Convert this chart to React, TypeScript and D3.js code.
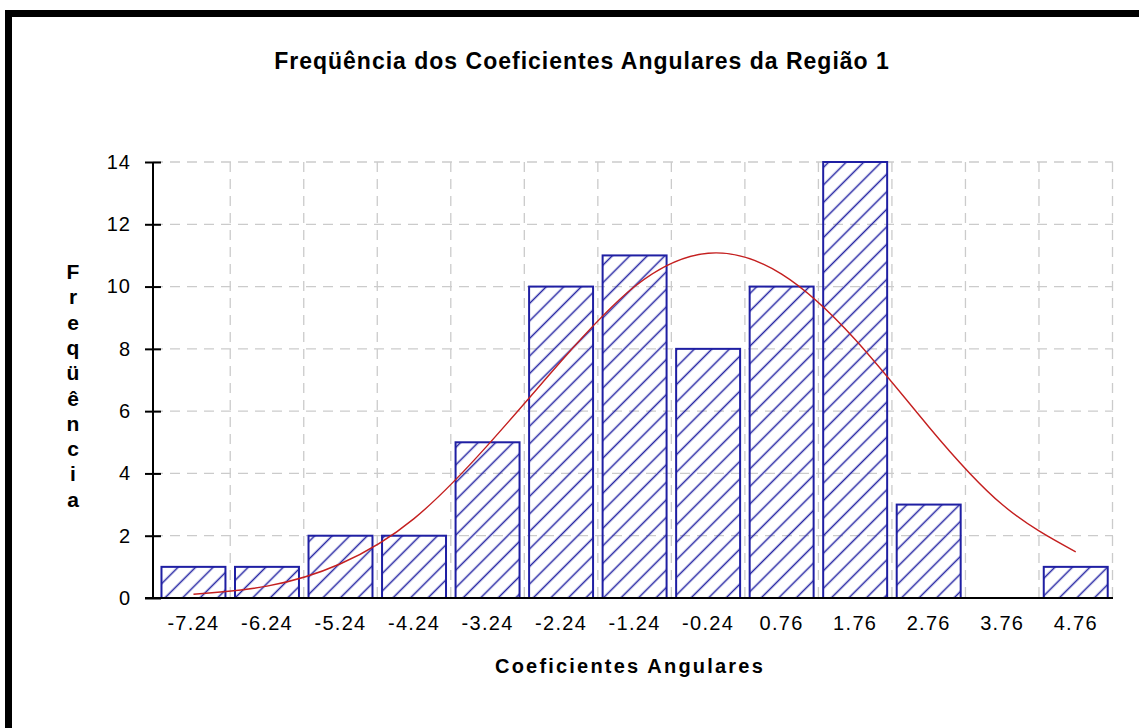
import React, { useEffect, useRef } from "react";
import * as d3 from "d3";

// bin labels (class centres) and bar heights
const categories = ["-7.24", "-6.24", "-5.24", "-4.24", "-3.24", "-2.24", "-1.24", "-0.24", "0.76", "1.76", "2.76", "3.76", "4.76"];
const frequencies = [1, 1, 2, 2, 5, 10, 11, 8, 10, 14, 3, 0, 1];
// fitted normal curve, estimated at each bin centre
const curveValues = [0.12, 0.38, 1.1, 2.55, 4.9, 7.6, 10.0, 11.07, 10.4, 8.3, 5.5, 3.0, 1.48];
const yTicks = [0, 2, 4, 6, 8, 10, 12, 14];
const yLabelLetters = ["F", "r", "e", "q", "ü", "ê", "n", "c", "i", "a"];

const title = "Freqüência dos Coeficientes Angulares da Região 1";
const xTitle = "Coeficientes Angulares";

const W = 1139;
const H = 728;

const App = () => {
  const svgRef = useRef(null);

  useEffect(() => {
    const svg = d3.select(svgRef.current);
    svg.selectAll("*").remove();

    const plot = { left: 153, right: 1113, top: 162, bottom: 598 };
    const font = "Arial, 'Liberation Sans', sans-serif";

    // hatch pattern for the bars
    const defs = svg.append("defs");
    defs
      .append("pattern")
      .attr("id", "hatch")
      .attr("patternUnits", "userSpaceOnUse")
      .attr("width", 12.4)
      .attr("height", 12.4)
      .attr("patternTransform", "rotate(45)")
      .append("line")
      .attr("x1", 6.2)
      .attr("y1", 0)
      .attr("x2", 6.2)
      .attr("y2", 12.4)
      .attr("stroke", "#2626a4")
      .attr("stroke-width", 1.5);

    svg.append("rect").attr("width", W).attr("height", H).attr("fill", "#fff");

    // window frame (top and left edges only)
    svg
      .append("path")
      .attr("d", `M8.5,${H} V13.5 H${W}`)
      .attr("fill", "none")
      .attr("stroke", "#000")
      .attr("stroke-width", 7);

    const x = d3
      .scaleBand()
      .domain(categories)
      .range([156.7, 1112.5])
      .paddingInner(0.13)
      .paddingOuter(0.065);

    const y = d3.scaleLinear().domain([0, 14]).range([plot.bottom, plot.top]);

    const grid = svg.append("g").attr("stroke", "#cbcbcb").attr("stroke-width", 1.3).attr("stroke-dasharray", "10 7");

    grid
      .selectAll(".hgrid")
      .data(yTicks.filter((t) => t > 0))
      .enter()
      .append("line")
      .attr("x1", plot.left)
      .attr("x2", plot.right)
      .attr("y1", (d) => y(d))
      .attr("y2", (d) => y(d));

    const gap = x.step() * x.paddingInner();
    grid
      .selectAll(".vgrid")
      .data(categories)
      .enter()
      .append("line")
      .attr("x1", (d) => x(d) + x.bandwidth() + gap / 2)
      .attr("x2", (d) => x(d) + x.bandwidth() + gap / 2)
      .attr("y1", plot.top)
      .attr("y2", plot.bottom);

    // bars
    svg
      .selectAll(".bar")
      .data(frequencies.map((v, i) => ({ c: categories[i], v })).filter((d) => d.v > 0))
      .enter()
      .append("rect")
      .attr("x", (d) => x(d.c))
      .attr("y", (d) => y(d.v))
      .attr("width", x.bandwidth())
      .attr("height", (d) => y(0) - y(d.v))
      .attr("fill", "url(#hatch)")
      .attr("stroke", "#1f1fa3")
      .attr("stroke-width", 2);

    // normal curve
    const line = d3
      .line()
      .x((d, i) => x(categories[i]) + x.bandwidth() / 2)
      .y((d) => y(d))
      .curve(d3.curveNatural);

    svg
      .append("path")
      .datum(curveValues)
      .attr("d", line)
      .attr("fill", "none")
      .attr("stroke", "#c41f1f")
      .attr("stroke-width", 1.4);

    // axes
    const yAxis = svg.append("g").attr("transform", `translate(${plot.left},0)`);
    yAxis
      .call(d3.axisLeft(y).tickValues(yTicks).tickSize(0).tickPadding(22).tickFormat(d3.format("d")))
      .call((g) => g.select(".domain").remove());
    yAxis
      .selectAll(".tick text")
      .attr("font-family", font)
      .attr("font-size", 20)
      .attr("letter-spacing", 1)
      .attr("fill", "#000");
    yAxis
      .selectAll(".tick")
      .append("line")
      .attr("x1", -8)
      .attr("x2", 8)
      .attr("stroke", "#000")
      .attr("stroke-width", 2);
    yAxis
      .append("line")
      .attr("y1", plot.top)
      .attr("y2", plot.bottom)
      .attr("stroke", "#000")
      .attr("stroke-width", 2);

    const xAxis = svg.append("g").attr("transform", `translate(0,${plot.bottom})`);
    xAxis
      .call(d3.axisBottom(x).tickSize(0).tickPadding(18))
      .call((g) => g.select(".domain").remove());
    xAxis
      .selectAll(".tick text")
      .attr("font-family", font)
      .attr("font-size", 20)
      .attr("letter-spacing", 1.3)
      .attr("fill", "#000");
    xAxis
      .append("line")
      .attr("x1", plot.left - 8)
      .attr("x2", plot.right)
      .attr("stroke", "#000")
      .attr("stroke-width", 2);

    // titles
    svg
      .append("text")
      .attr("x", 582)
      .attr("y", 69)
      .attr("text-anchor", "middle")
      .attr("font-family", font)
      .attr("font-weight", "bold")
      .attr("font-size", 23)
      .attr("letter-spacing", 1)
      .attr("fill", "#000")
      .text(title);

    svg
      .append("text")
      .attr("x", 630)
      .attr("y", 673)
      .attr("text-anchor", "middle")
      .attr("font-family", font)
      .attr("font-weight", "bold")
      .attr("font-size", 20)
      .attr("letter-spacing", 2.2)
      .attr("fill", "#000")
      .text(xTitle);

    svg
      .append("g")
      .selectAll("text")
      .data(yLabelLetters)
      .enter()
      .append("text")
      .attr("x", 73)
      .attr("y", (d, i) => 279 + i * 25.3)
      .attr("text-anchor", "middle")
      .attr("font-family", font)
      .attr("font-weight", "bold")
      .attr("font-size", 21)
      .attr("fill", "#000")
      .text((d) => d);
  }, []);

  return <svg ref={svgRef} width={W} height={H} style={{ position: "absolute", left: 0, top: 0 }}></svg>;
};

export default App;
